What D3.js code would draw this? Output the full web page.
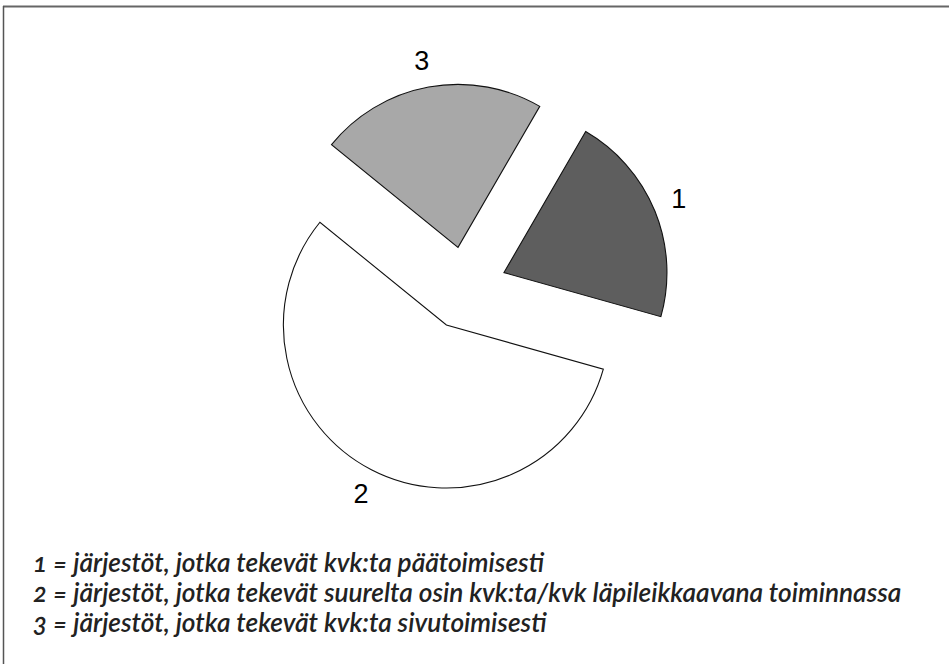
<!DOCTYPE html>
<html>
<head>
<meta charset="utf-8">
<script src="https://cdn.jsdelivr.net/npm/d3@7"></script>
<style>
  html, body { margin: 0; padding: 0; background: #fff; }
  svg { display: block; }
</style>
</head>
<body>
<svg id="chart" width="949" height="664"></svg>
<script>
// ---- data ----
const categories = ["1", "2", "3"];
const values = [21, 56.5, 22.5];
const sliceColors = ["#5e5e5e", "#ffffff", "#a8a8a8"];
const legendLines = [
  "1 = järjestöt, jotka tekevät kvk:ta päätoimisesti",
  "2 = järjestöt, jotka tekevät suurelta osin kvk:ta/kvk läpileikkaavana toiminnassa",
  "3 = järjestöt, jotka tekevät kvk:ta sivutoimisesti"
];

// ---- layout ----
const W = 949, H = 664;
const cx = 465.5, cy = 288.2;
const R = 163;
const explode = 41.5;
const labelGap = 26.5;
const startDeg = 30.1;

const svg = d3.select("#chart");
svg.append("rect").attr("width", W).attr("height", H).attr("fill", "#fff");

// partial frame (top and left)
svg.append("line").attr("x1", 3).attr("x2", W).attr("y1", 6.5).attr("y2", 6.5)
  .attr("stroke", "#666").attr("stroke-width", 2);
svg.append("line").attr("x1", 3.5).attr("x2", 3.5).attr("y1", 6).attr("y2", H)
  .attr("stroke", "#555").attr("stroke-width", 1.5);

const data = categories.map((c, i) => ({ cat: c, value: values[i], color: sliceColors[i] }));
const start = startDeg * Math.PI / 180;
const pie = d3.pie().sort(null).value(d => d.value)
  .startAngle(start).endAngle(start + 2 * Math.PI);
const arcs = pie(data);
const arc = d3.arc().innerRadius(0).outerRadius(R);

const g = svg.append("g").attr("transform", `translate(${cx},${cy})`);

arcs.forEach(a => {
  const mid = (a.startAngle + a.endAngle) / 2;
  const ox = explode * Math.sin(mid), oy = -explode * Math.cos(mid);
  const sg = g.append("g").attr("transform", `translate(${ox},${oy})`);
  sg.append("path").attr("d", arc(a))
    .attr("fill", a.data.color)
    .attr("stroke", "#111").attr("stroke-width", 1.1)
    .attr("stroke-linejoin", "miter");
  const lr = R + labelGap;
  const lmid = mid - 0.6 * Math.PI / 180;
  sg.append("text")
    .attr("x", lr * Math.sin(lmid))
    .attr("y", -lr * Math.cos(lmid))
    .attr("text-anchor", "middle")
    .attr("dominant-baseline", "central")
    .attr("font-family", "Liberation Sans, Arial, sans-serif")
    .attr("font-size", 27)
    .attr("fill", "#000")
    .text(a.data.cat);
});

// legend
const legendX = 33;
const legendY0 = 572;
const legendStep = 30;
const legendTargetWidth = 869;
const leg = svg.append("g");
const texts = legendLines.map((t, i) =>
  leg.append("text")
    .attr("x", legendX)
    .attr("y", legendY0 + i * legendStep)
    .attr("font-family", "Lato, 'Open Sans', sans-serif")
    .attr("font-style", "italic")
    .attr("font-weight", 600)
    .attr("font-size", 20)
    .attr("fill", "#222")
    .style("font-variant-numeric", "oldstyle-nums")
    .text(t)
);
const longest = d3.max(texts, t => t.node().getComputedTextLength());
const fs = 20 * legendTargetWidth / longest;
texts.forEach(t => t.attr("font-size", fs));
</script>
</body>
</html>
